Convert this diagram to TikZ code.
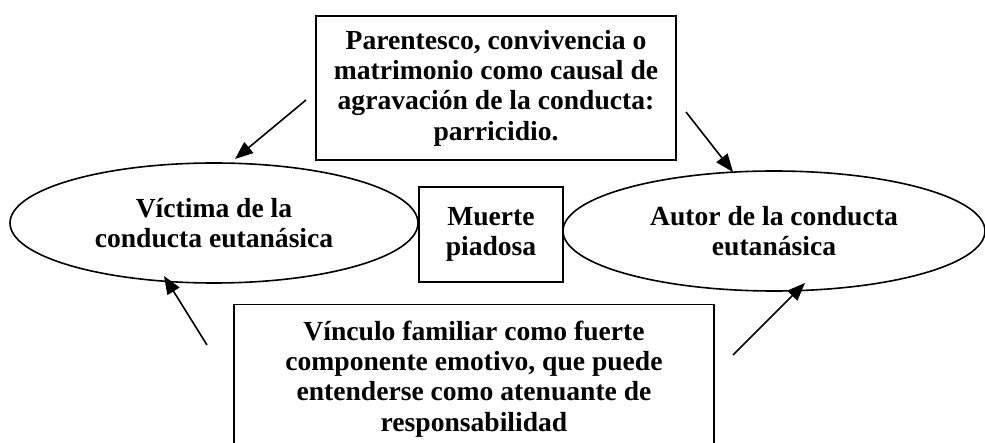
\documentclass[tikz,border=0pt]{standalone}
\usepackage{fontspec}
\setmainfont{Liberation Serif}
\usetikzlibrary{shapes.geometric,arrows.meta}
\tikzset{
  txt/.style={font=\fontsize{13.8}{15.2}\selectfont\bfseries, align=center, inner sep=0pt},
  boxnode/.style={txt, draw, line width=0.8pt},
  ellnode/.style={txt, draw, ellipse, line width=0.8pt},
  conn/.style={line width=0.8pt, -{Triangle[length=9pt,width=7pt]}}
}
\begin{document}
\begin{tikzpicture}[x=0.5pt,y=-0.5pt]
\useasboundingbox (0,0) rectangle (985,443);
\clip (0,0) rectangle (985,443);
\node[boxnode, minimum width=180pt, minimum height=72pt] (top) at (496,88)
  {Parentesco, convivencia o\\matrimonio como causal de\\agravación de la conducta:\\parricidio.};
\node[boxnode, minimum width=72pt, minimum height=47.5pt] (mid) at (491,234.5)
  {Muerte\\piadosa};
\node[ellnode, minimum width=204pt, minimum height=60pt] (vict) at (214,223)
  {Víctima de la\\conducta eutanásica};
\node[ellnode, minimum width=211pt, minimum height=60pt] (autor) at (774,231)
  {Autor de la conducta\\eutanásica};
\node[boxnode, minimum width=240pt, minimum height=74.5pt] (bot) at (474,379)
  {Vínculo familiar como fuerte\\componente emotivo, que puede\\entenderse como atenuante de\\responsabilidad};
\coordinate (t1) at (306,100); \coordinate (h1) at (235,159);
\coordinate (t2) at (686,112); \coordinate (h2) at (733,172);
\coordinate (t3) at (207,345); \coordinate (h3) at (164,276);
\coordinate (t4) at (733,355); \coordinate (h4) at (805,283);
\draw[conn] (t1) -- (h1);
\draw[conn] (t2) -- (h2);
\draw[conn] (t3) -- (h3);
\draw[conn] (t4) -- (h4);
\end{tikzpicture}
\end{document}
